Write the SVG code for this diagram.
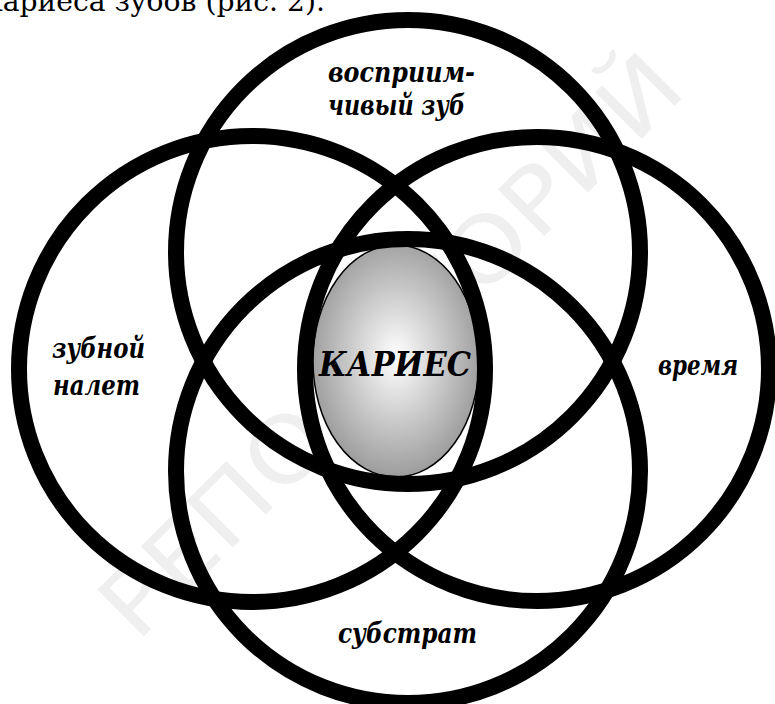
<svg xmlns="http://www.w3.org/2000/svg" width="775" height="704" viewBox="0 0 775 704">
  <defs>
    <radialGradient id="g" cx="50%" cy="48%" r="55%">
      <stop offset="0" stop-color="#ffffff"/>
      <stop offset="1" stop-color="#979797"/>
    </radialGradient>
  </defs>
  <style>
    .ring{fill:none;stroke:#000;stroke-width:16}
    .lbl{font-family:"DejaVu Serif",serif;font-weight:bold;font-style:italic;font-size:28px;fill:#000}
    .big{font-size:33px}
    .head{font-family:"DejaVu Serif",serif;font-size:28px;fill:#000}
    .wm{font-family:"DejaVu Sans",sans-serif;font-size:90px;fill:#efefef}
  </style>
  <rect width="775" height="704" fill="#fff"/>
  <text class="wm" transform="translate(395,350) rotate(-45)" text-anchor="middle" dominant-baseline="middle" textLength="780" lengthAdjust="spacingAndGlyphs">РЕПОЗИТОРИЙ</text>
  <text class="head" x="-15" y="11" textLength="340" lengthAdjust="spacingAndGlyphs">кариеса зубов (рис. 2).</text>
  <g id="caries">
    <ellipse cx="396" cy="361" rx="83" ry="116" fill="url(#g)" stroke="#000" stroke-width="1.5"/>
  </g>
  <g id="connectors"></g>
  <g id="tooth"><circle class="ring" cx="408" cy="252" r="232"/><text class="lbl" x="328" y="82" textLength="147" lengthAdjust="spacingAndGlyphs">восприим-</text><text class="lbl" x="328" y="115" textLength="137" lengthAdjust="spacingAndGlyphs">чивый зуб</text></g>
  <g id="plaque"><circle class="ring" cx="252" cy="369" r="233"/><text class="lbl" x="52" y="358" textLength="93" lengthAdjust="spacingAndGlyphs">зубной</text><text class="lbl" x="53" y="395" textLength="87" lengthAdjust="spacingAndGlyphs">налет</text></g>
  <g id="time"><circle class="ring" cx="537" cy="369" r="232"/><text class="lbl" x="658" y="375" textLength="80" lengthAdjust="spacingAndGlyphs">время</text></g>
  <g id="substrate"><circle class="ring" cx="408" cy="471" r="232"/><text class="lbl" x="338" y="643" textLength="139" lengthAdjust="spacingAndGlyphs">субстрат</text></g>
  <g id="caries-label"><text class="lbl big" x="319" y="376" textLength="152" lengthAdjust="spacingAndGlyphs">КАРИЕС</text></g>
</svg>
